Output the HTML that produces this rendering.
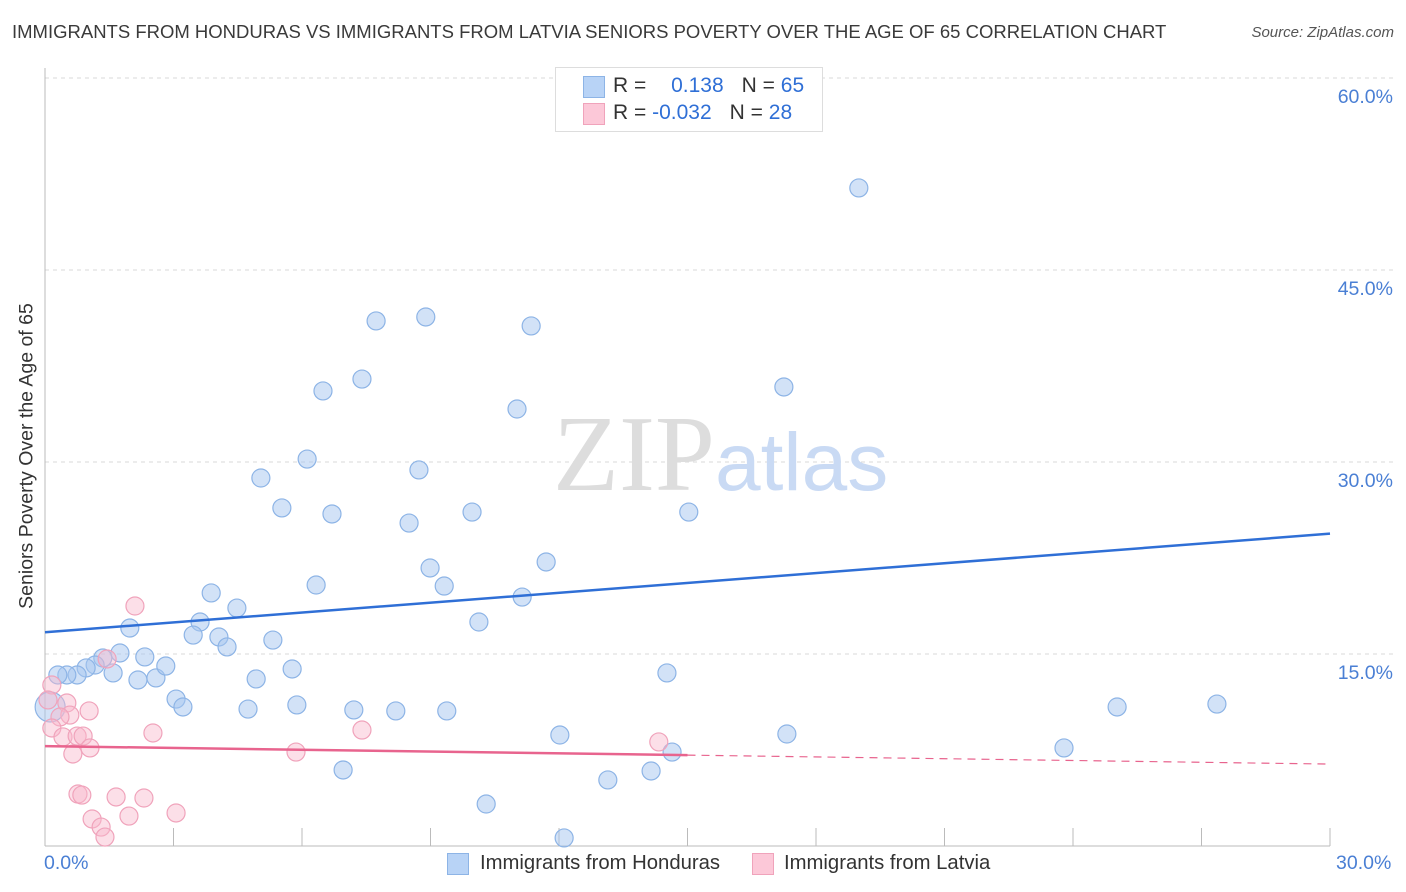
<!DOCTYPE html>
<html><head><meta charset="utf-8"><style>
body{margin:0;background:#fff;font-family:"Liberation Sans",sans-serif;}
#wrap{position:relative;width:1406px;height:892px;overflow:hidden;}
.t{position:absolute;white-space:nowrap;}
</style></head><body>
<div id="wrap">
<div class="t" style="left:12px;top:21px;font-size:18.5px;color:#3a3a3a;">IMMIGRANTS FROM HONDURAS VS IMMIGRANTS FROM LATVIA SENIORS POVERTY OVER THE AGE OF 65 CORRELATION CHART</div>
<div class="t" style="right:12px;top:24px;font-size:15px;color:#555;font-style:italic;">Source: ZipAtlas.com</div>
<svg id="svg" width="1406" height="892" style="position:absolute;left:0;top:0"></svg>
</div>
<script>
const xTickVals=[0,3,6,9,12,15,18,21,24,27,30];
const yTickVals=[15,30,45,60];
const yTickLabels=["15.0%","30.0%","45.0%","60.0%"];
const blueX=[19.00,7.73,8.89,11.35,6.49,7.40,17.25,11.02,6.12,5.04,8.73,5.53,6.70,8.50,9.97,15.03,11.70,8.99,6.33,9.32,3.88,11.14,4.48,3.62,10.13,1.98,3.46,4.06,5.32,4.25,1.75,2.33,1.35,1.17,0.96,0.75,0.51,0.30,1.59,2.17,2.59,2.82,3.06,3.22,4.93,5.77,4.74,5.88,7.21,8.19,9.38,6.96,10.30,12.12,13.14,14.15,14.64,14.52,17.32,12.02,23.79,25.03,27.36];
const blueY=[51.41,41.02,41.33,40.63,35.55,36.48,35.86,34.14,30.23,28.75,29.38,26.41,25.94,25.23,26.09,26.09,22.19,21.72,20.39,20.31,19.77,19.45,18.59,17.50,17.50,17.03,16.48,16.33,16.09,15.55,15.08,14.77,14.69,14.14,13.91,13.36,13.36,13.36,13.52,12.97,13.13,14.06,11.48,10.86,13.05,13.83,10.70,11.02,10.63,10.55,10.55,5.94,3.28,0.63,5.16,5.86,7.34,13.52,8.75,8.67,7.66,10.86,11.09];
const pinkX=[2.10,1.45,0.16,0.51,1.03,0.58,0.35,0.16,0.42,0.75,0.89,1.05,0.65,2.52,5.86,7.40,14.33,0.77,0.86,1.66,2.31,3.06,1.96,1.10,1.31,1.40,0.07];
const pinkY=[18.75,14.61,12.58,11.17,10.55,10.23,10.08,9.22,8.52,8.59,8.59,7.66,7.19,8.83,7.34,9.06,8.13,4.06,3.98,3.83,3.75,2.58,2.34,2.11,1.48,0.70,11.41];
const bigBlue=[0.12,10.86];
const blueTrend=[16.7,24.4];
const pinkTrend=[7.8,6.4];
const X=v=>45+v/30*1285, Y=v=>846-v/60*768;
const svg=document.getElementById('svg');const NS='http://www.w3.org/2000/svg';
function mk(t,a){const e=document.createElementNS(NS,t);for(const k in a)e.setAttribute(k,a[k]);svg.appendChild(e);return e;}
yTickVals.forEach((v,i)=>{
 const g=mk('line',{x1:45,x2:1395,y1:Y(v),y2:Y(v),stroke:'#d8d8d8','stroke-dasharray':'4,4'});
 
 
 const t=mk('text',{x:1393,y:Y(v)+25,'text-anchor':'end','font-size':19.5,fill:'#4a7fd4'});t.textContent=yTickLabels[i];
 
 
});
const ax=mk('line',{x1:45,x2:1330,y1:846,y2:846,stroke:'#bbb'});


const ay=mk('line',{x1:45,x2:45,y1:68,y2:846,stroke:'#bbb'});


xTickVals.forEach(v=>{const l=mk('line',{x1:X(v),x2:X(v),y1:828,y2:846,stroke:'#bbb'});
 
 });
const wm=mk('text',{x:553,y:490,'text-anchor':'start','font-size':108,fill:'#ddd','font-family':'Liberation Serif'});wm.innerHTML='ZIP<tspan fill="#c9daf4" font-family="Liberation Sans" font-size="82">atlas</tspan>';


blueX.forEach((x,i)=>{const c=mk('circle',{cx:X(x),cy:Y(blueY[i]),r:9,fill:'rgba(165,198,240,0.5)',stroke:'#8db4e6','stroke-width':1.2});
 
 });
const bb=mk('circle',{cx:X(bigBlue[0]),cy:Y(bigBlue[1]),r:15,fill:'rgba(165,198,240,0.5)',stroke:'#8db4e6','stroke-width':1.2});


pinkX.forEach((x,i)=>{const c=mk('circle',{cx:X(x),cy:Y(pinkY[i]),r:9,fill:'rgba(248,185,205,0.45)',stroke:'#f0a3bb','stroke-width':1.2});
 
 });
const bl=mk('line',{x1:X(0),x2:X(30),y1:Y(blueTrend[0]),y2:Y(blueTrend[1]),stroke:'#2f6fd6','stroke-width':2.5});


const pm=pinkTrend[0]+(pinkTrend[1]-pinkTrend[0])*0.5;
const pl=mk('line',{x1:X(0),x2:X(15),y1:Y(pinkTrend[0]),y2:Y(pm),stroke:'#e8648e','stroke-width':2.5});


const pd=mk('line',{x1:X(15),x2:X(30),y1:Y(pm),y2:Y(pinkTrend[1]),stroke:'#e8648e','stroke-width':1.2,'stroke-dasharray':'8,6'});


</script>
<div class="t" style="left:44px;top:852px;font-size:19.5px;color:#4a7fd4;">0.0%</div>
<div class="t" style="left:1336px;top:852px;font-size:19.5px;color:#4a7fd4;">30.0%</div>
<div class="t" style="top:456px;font-size:19.5px;color:#333;transform:translate(-50%,-50%) rotate(-90deg);transform-origin:center;left:27px;">Seniors Poverty Over the Age of 65</div>
<div style="position:absolute;left:555px;top:67px;width:266px;height:63px;border:1px solid #ddd;background:#fff;">
 <div style="position:absolute;left:27px;top:8px;width:20px;height:20px;background:#b8d3f6;border:1px solid #8db4e6;"></div>
 <div style="position:absolute;left:27px;top:35px;width:20px;height:20px;background:#fcc8d8;border:1px solid #f0a3bb;"></div>
 <div class="t" style="left:57px;top:6px;font-size:21px;color:#333;">R = <span style="color:#2f6fd6;margin-left:19px">0.138</span><span style="margin-left:18px">N = </span><span style="color:#2f6fd6">65</span></div>
 <div class="t" style="left:57px;top:33px;font-size:21px;color:#333;">R = <span style="color:#2f6fd6">-0.032</span><span style="margin-left:18px">N = </span><span style="color:#2f6fd6"> 28</span></div>
</div>
<div style="position:absolute;left:447px;top:853px;width:20px;height:20px;background:#b8d3f6;border:1px solid #8db4e6;"></div>
<div class="t" style="left:480px;top:852px;font-size:20.3px;color:#333;">Immigrants from Honduras</div>
<div style="position:absolute;left:752px;top:853px;width:20px;height:20px;background:#fcc8d8;border:1px solid #f0a3bb;"></div>
<div class="t" style="left:784px;top:852px;font-size:20.3px;color:#333;">Immigrants from Latvia</div>
</body></html>
